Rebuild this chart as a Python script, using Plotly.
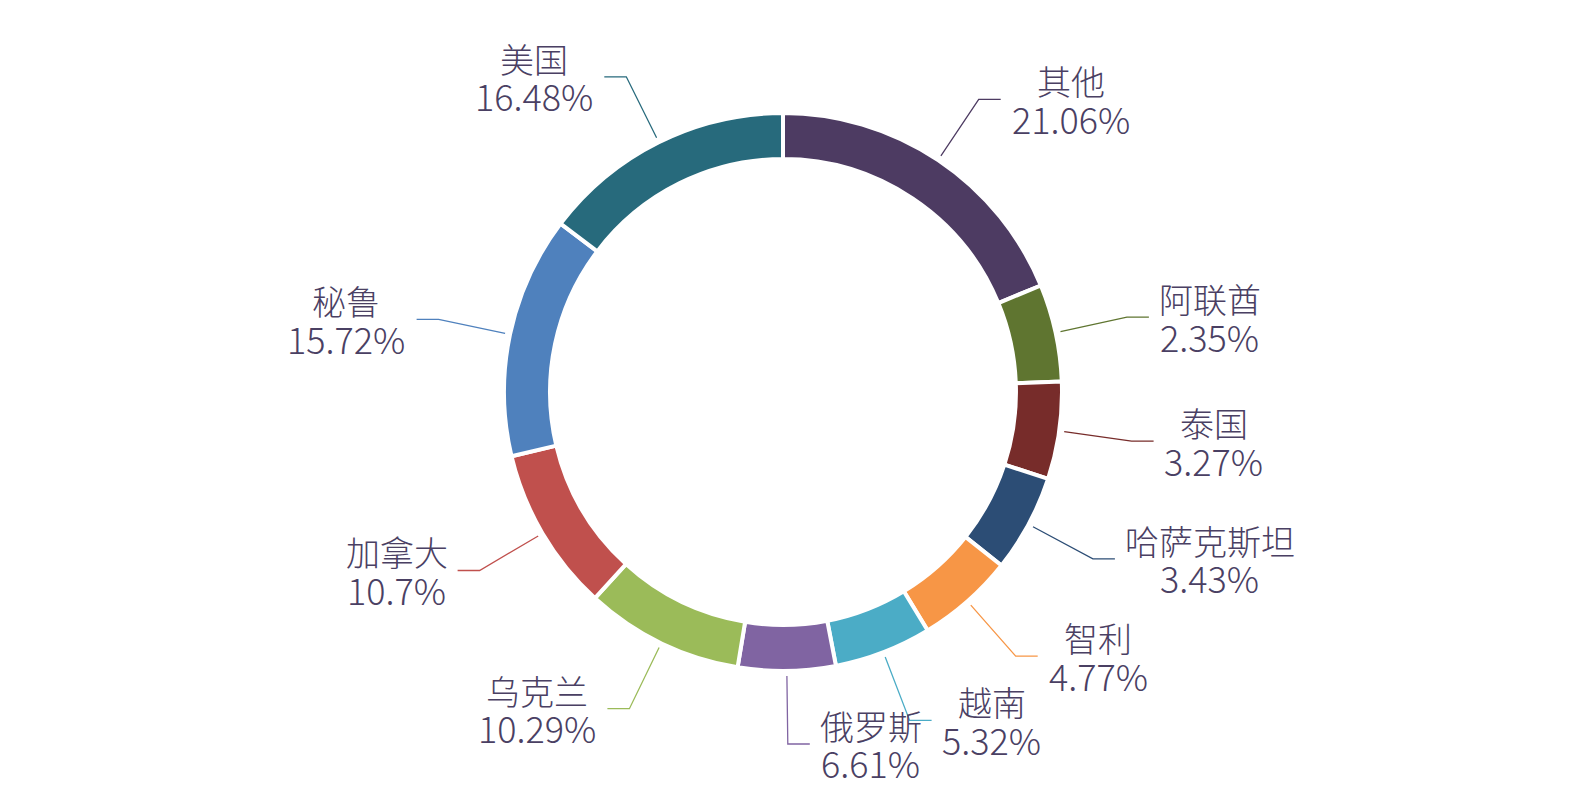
import math
import plotly.graph_objects as go

# ---- data -------------------------------------------------------------
countries = ["其他", "阿联酋", "泰国", "哈萨克斯坦", "智利", "越南",
             "俄罗斯", "乌克兰", "加拿大", "秘鲁", "美国"]
shares = [21.06, 2.35, 3.27, 3.43, 4.77, 5.32, 6.61, 10.29, 10.7, 15.72, 16.48]
share_labels = ["21.06%", "2.35%", "3.27%", "3.43%", "4.77%", "5.32%",
                "6.61%", "10.29%", "10.7%", "15.72%", "16.48%"]
colors = ["#4d3b62", "#5f7530", "#772c2a", "#2c4d75", "#f79646", "#4bacc6",
          "#8064a2", "#9bbb59", "#c0504d", "#4f81bd", "#276a7c"]

# ---- layout constants -----------------------------------------------
W, H = 1570, 787
CX, CY = 783, 392          # pie centre (px)
R = 279                    # outer radius (px)
HOLE = 0.835
MIN_ANGLE = 20.3           # small slices are drawn with a minimum angle
SMALL_CUTOFF = 7.0         # shares below this use the minimum angle
R1, R2 = 284, 352          # leader line radial segment
HSEG = 22                  # leader line horizontal segment
GAP = 10                   # gap between leader line and label
FS_NAME = 34               # label font sizes
FS_PCT = 36
LINE_H = 37                # label line spacing
TEXT_COLOR = "#4a4063"
FONT = "Noto Sans CJK SC"

# display angles (min-angle rule, rest proportional)
n_small = sum(1 for v in shares if v < SMALL_CUTOFF)
big_sum = sum(v for v in shares if v >= SMALL_CUTOFF)
unit = (360 - n_small * MIN_ANGLE) / big_sum
angles = [MIN_ANGLE if v < SMALL_CUTOFF else v * unit for v in shares]

fig = go.Figure()
fig.add_trace(go.Pie(
    labels=countries, values=angles, customdata=share_labels,
    sort=False, direction="clockwise", rotation=0, hole=HOLE,
    marker=dict(colors=colors, line=dict(color="white", width=4)),
    textinfo="none", hovertemplate="%{label}<br>%{customdata}<extra></extra>",
    showlegend=False,
    domain=dict(x=[(CX - R) / W, (CX + R) / W],
                y=[1 - (CY + R) / H, 1 - (CY - R) / H]),
))


def text_width(s, size):
    w = 0.0
    for ch in s:
        if ord(ch) > 0x2E80:
            w += 1.0
        elif ch.isdigit():
            w += 0.555
        elif ch == ".":
            w += 0.27
        elif ch == "%":
            w += 0.86
        else:
            w += 0.5
    return w * size


shapes = []
annotations = []
cum = 0.0
for name, lab, ang, col in zip(countries, share_labels, angles, colors):
    mid = math.radians(cum + ang / 2)
    cum += ang
    sx, sy = CX + R1 * math.sin(mid), CY - R1 * math.cos(mid)
    ex, ey = CX + R2 * math.sin(mid), CY - R2 * math.cos(mid)
    right = math.sin(mid) >= 0
    hx = ex + HSEG if right else ex - HSEG
    shapes.append(dict(type="path", xref="x", yref="y",
                       path=f"M {sx:.1f} {sy:.1f} L {ex:.1f} {ey:.1f} L {hx:.1f} {ey:.1f}",
                       line=dict(color=col, width=1.3)))
    bw = max(text_width(name, FS_NAME), text_width(lab, FS_PCT))
    bx = hx + GAP + bw / 2 if right else hx - GAP - bw / 2
    for txt, dy, fs in ((name, -LINE_H / 2, FS_NAME), (lab, LINE_H / 2, FS_PCT)):
        annotations.append(dict(x=bx, y=ey + dy, xref="x", yref="y", text=txt,
                                showarrow=False, xanchor="center", yanchor="middle",
                                borderpad=0,
                                font=dict(family=FONT, size=fs, color=TEXT_COLOR, weight=300)))

fig.update_layout(
    width=W, height=H, margin=dict(l=0, r=0, t=0, b=0),
    paper_bgcolor="white", plot_bgcolor="white",
    xaxis=dict(range=[0, W], visible=False, fixedrange=True),
    yaxis=dict(range=[H, 0], visible=False, fixedrange=True),
    shapes=shapes, annotations=annotations,
)

fig.write_html("out.html")
